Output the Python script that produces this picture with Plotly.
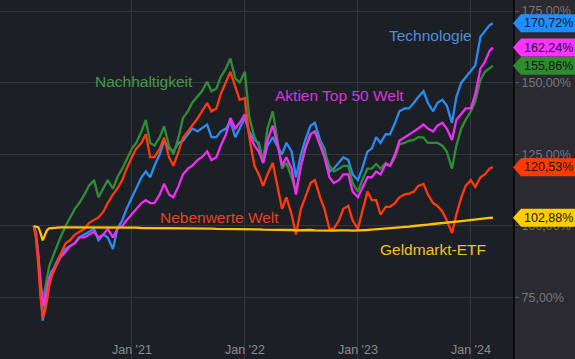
import plotly.graph_objects as go

dates = [
    "2020-02-19", "2020-02-26", "2020-03-05", "2020-03-12", "2020-03-19", "2020-03-26",
    "2020-04-02", "2020-04-09", "2020-04-16", "2020-04-23",
    "2020-05-01", "2020-05-15", "2020-06-01", "2020-06-15", "2020-07-01", "2020-07-15",
    "2020-08-01", "2020-08-15", "2020-09-01", "2020-09-15", "2020-10-01", "2020-10-15",
    "2020-11-01", "2020-11-15", "2020-12-01", "2020-12-15",
    "2021-01-01", "2021-01-15", "2021-02-01", "2021-02-15", "2021-03-01", "2021-03-15",
    "2021-04-01", "2021-04-15", "2021-05-01", "2021-05-15", "2021-06-01", "2021-06-15",
    "2021-07-01", "2021-07-15", "2021-08-01", "2021-08-15", "2021-09-01", "2021-09-15",
    "2021-10-01", "2021-10-15", "2021-11-01", "2021-11-15", "2021-12-01", "2021-12-15",
    "2022-01-01", "2022-01-15", "2022-02-01", "2022-02-15", "2022-03-01", "2022-03-15",
    "2022-04-01", "2022-04-15", "2022-05-01", "2022-05-15", "2022-06-01", "2022-06-15",
    "2022-07-01", "2022-07-15", "2022-08-01", "2022-08-15", "2022-09-01", "2022-09-15",
    "2022-10-01", "2022-10-15", "2022-11-01", "2022-11-15", "2022-12-01", "2022-12-15",
    "2023-01-01", "2023-01-15", "2023-02-01", "2023-02-15", "2023-03-01", "2023-03-15",
    "2023-04-01", "2023-04-15", "2023-05-01", "2023-05-15", "2023-06-01", "2023-06-15",
    "2023-07-01", "2023-07-15", "2023-08-01", "2023-08-15", "2023-09-01", "2023-09-15",
    "2023-10-01", "2023-10-15", "2023-11-01", "2023-11-15", "2023-12-01", "2023-12-15",
    "2024-01-01", "2024-01-15", "2024-02-01", "2024-02-15", "2024-03-01", "2024-03-12",
]

technologie = [
    100, 97, 88, 76, 67, 72, 78, 82, 84, 85,
    87, 90, 92, 93, 94, 96, 97, 98, 99, 95, 97, 96, 92, 99, 102, 106,
    110, 113, 117, 119, 117, 121, 125, 129.7, 127, 126, 129, 129.7,
    132, 134, 133, 134, 135.4, 131, 131, 133, 134, 136.5, 131, 134,
    137.7, 133, 130, 129, 122, 128, 131, 128, 125, 129, 126, 117,
    125, 130, 135, 136, 130, 127, 119, 120, 122, 124, 123, 118,
    116, 120, 126, 127, 131, 129, 132, 132, 136, 140, 141, 141,
    143, 145, 147, 143, 140, 143, 144, 142, 136, 145, 150, 152,
    154, 156, 166, 168, 170, 170.72,
]

aktien_top50 = [
    100, 97, 89, 79, 72, 75, 79, 82, 83, 85,
    86, 89, 91, 93, 94, 96, 96, 97, 98, 96, 97, 99, 96, 99, 100, 102,
    104, 106, 108, 109, 108, 108, 111, 114.7, 111, 110, 114, 118,
    120, 121, 123, 124, 126, 123, 124, 128, 132, 137.7, 134, 136,
    138.9, 132, 128, 126, 122, 130, 135, 129, 121, 124, 120, 111,
    121, 127, 132, 133, 128, 124, 117, 115, 116, 118, 118, 112,
    110, 113, 117, 117, 119, 118, 121.6, 121, 125, 129.7, 131, 132,
    133, 134, 135.4, 134, 133, 135, 136, 134, 130, 137, 139, 141,
    141, 145.8, 155, 157.2, 161, 162.24,
]

nachhaltigkeit = [
    100, 98, 90, 80, 74, 78, 82, 86, 88, 90,
    92, 96, 100, 103, 106, 108, 111, 114, 116, 110, 113, 116, 113, 117, 120, 123,
    127, 129, 133, 137, 129, 128, 131, 134.8, 128, 125, 131, 137.7,
    140, 143, 145, 147, 150.3, 147, 148, 152, 155, 158.4, 151.5, 150,
    153.8, 138, 131, 128, 123, 134, 140, 130, 120, 122, 117, 112,
    121, 127, 132, 133, 129, 126, 121, 119, 120, 121, 121, 115,
    112, 116, 120, 120, 121.6, 120, 122, 121, 124, 128.5, 129, 129.7,
    130, 131, 130.8, 129, 129, 129, 128, 126, 120, 128, 134, 137,
    140, 143.4, 151, 153.8, 155, 155.86,
]

nebenwerte = [
    100, 96, 86, 75, 68, 70, 74, 79, 82, 84,
    86, 90, 94, 95, 97, 98, 99, 101, 102, 103, 105, 108, 111, 113, 116, 120,
    124, 127, 129, 132, 124, 124, 127, 130.8, 124, 121, 126, 130.8,
    133, 135, 137.5, 140, 142.9, 140, 141, 146, 150, 153.8, 148.6, 144,
    144.6, 131, 121, 118, 114, 118, 122, 114, 106, 110, 104, 97,
    106, 110, 115, 116, 110, 106, 99, 99, 102, 106, 107, 102,
    99, 105, 112, 109, 109, 104, 106.7, 106.7, 108, 110, 111, 111.3,
    112, 114, 114.7, 111, 108, 107, 105, 102, 97.5, 104, 110, 114,
    116, 113.6, 117, 118, 120, 120.53,
]

geldmarkt = [
    100.0, 99.8, 99.5, 97.5, 95.0, 96.8, 98.6, 99.2, 99.3, 99.4,
    99.4, 99.5, 99.5, 99.5, 99.5, 99.6, 99.5, 99.5, 99.5, 99.5, 99.5, 99.5, 99.5, 99.4, 99.4, 99.4,
    99.4, 99.4, 99.3, 99.3, 99.3, 99.3, 99.3, 99.3, 99.2, 99.2, 99.2, 99.2,
    99.2, 99.2, 99.1, 99.1, 99.1, 99.1, 99.0, 99.0, 99.0, 99.0, 98.9, 98.9,
    98.9, 98.9, 98.8, 98.8, 98.7, 98.7, 98.8, 98.7, 98.6, 98.6, 98.6, 98.5,
    98.6, 98.5, 98.6, 98.5, 98.4, 98.5, 98.3, 98.4, 98.5, 98.6, 98.5, 98.4,
    98.4, 98.5, 98.6, 98.7, 98.8, 98.9, 99.1, 99.2, 99.4, 99.5, 99.7, 99.8,
    100.0, 100.1, 100.3, 100.5, 100.7, 100.8, 101.0, 101.2, 101.4, 101.5, 101.7, 101.9,
    102.1, 102.3, 102.5, 102.6, 102.8, 102.88,
]

series_names = ["Technologie", "Nachhaltigkeit", "Aktien Top 50 Welt", "Nebenwerte Welt", "Geldmarkt-ETF"]
series_values = [technologie, nachhaltigkeit, aktien_top50, nebenwerte, geldmarkt]
line_colors = ["#2b8cf0", "#2f8f35", "#f22ef2", "#ff3b0a", "#ffc107"]
tag_colors = ["#1e8fff", "#2e8b2e", "#ff33ff", "#ff3a00", "#ffcc00"]
text_colors = ["#4a90dc", "#449a48", "#d936d9", "#e0451c", "#f2c21e"]

x_tick_vals = ["2021-01-01", "2022-01-01", "2023-01-01", "2024-01-01"]
x_tick_text = ["Jan '21", "Jan '22", "Jan '23", "Jan '24"]
y_tick_vals = [75, 100, 125, 150, 175]
y_tick_text = ["75,00%", "100,00%", "125,00%", "150,00%", "175,00%"]

PLOT_BG = "#1d1f27"
PANEL_BG = "#2b2a31"
GRID = "#34363e"

fig = go.Figure()
for i in range(len(series_names)):
    fig.add_trace(go.Scatter(
        x=dates, y=series_values[i], mode="lines", name=series_names[i],
        line=dict(color=line_colors[i], width=2.3), hoverinfo="skip",
    ))

# series labels inside the chart (positions in paper coordinates)
label_pos = {
    "Technologie": (0.839, 0.900),
    "Nachhaltigkeit": (0.281, 0.772),
    "Aktien Top 50 Welt": (0.661, 0.735),
    "Nebenwerte Welt": (0.427, 0.393),
    "Geldmarkt-ETF": (0.844, 0.304),
}
for i, name in enumerate(series_names):
    px, py = label_pos[name]
    fig.add_annotation(
        x=px, y=py, xref="paper", yref="paper", text=name, showarrow=False,
        xanchor="center", yanchor="middle",
        font=dict(family="Liberation Sans, Arial, sans-serif", size=15.5, color=text_colors[i]),
    )

# last-value tags on the right axis
for i, vals in enumerate(series_values):
    last = vals[-1]
    fig.add_shape(
        type="path", xref="paper", yref="y", xsizemode="pixel", ysizemode="pixel",
        xanchor=1, yanchor=last, path="M 0 0 L 8 9 L 64 9 L 64 -9 L 8 -9 Z",
        fillcolor=tag_colors[i], line=dict(width=0), layer="above",
    )
    fig.add_annotation(
        x=1, xref="paper", y=last, yref="y", xanchor="center", yanchor="middle",
        xshift=35, text=f"{last:.2f}".replace(".", ",") + "%", showarrow=False,
        font=dict(family="Liberation Sans, Arial, sans-serif", size=12.5, color="#15151a"),
    )

fig.update_layout(
    width=575, height=359,
    margin=dict(l=0, r=62, t=0, b=0),
    paper_bgcolor=PANEL_BG, plot_bgcolor=PLOT_BG,
    showlegend=False, hovermode=False,
    xaxis=dict(
        range=["2019-11-02", "2024-05-16"], tickvals=x_tick_vals, ticktext=x_tick_text,
        showgrid=True, gridcolor=GRID, gridwidth=1, zeroline=False, showline=False,
        ticks="", ticklabelposition="inside",
        tickfont=dict(family="Liberation Sans, Arial, sans-serif", size=12.5, color="#8b8c92"),
    ),
    yaxis=dict(
        side="right", range=[53.6, 178.84], tickvals=y_tick_vals, ticktext=y_tick_text,
        showgrid=True, gridcolor=GRID, gridwidth=1, zeroline=False,
        showline=True, linecolor="#0c0c10", linewidth=2,
        ticks="outside", ticklen=4, tickcolor="#55565c",
        tickfont=dict(family="Liberation Sans, Arial, sans-serif", size=12.5, color="#76777d"),
    ),
)

fig.write_html(
    "out.html",
    config={"displayModeBar": False, "staticPlot": True},
    post_script="document.body.style.margin='0';document.body.style.overflow='hidden';",
)
